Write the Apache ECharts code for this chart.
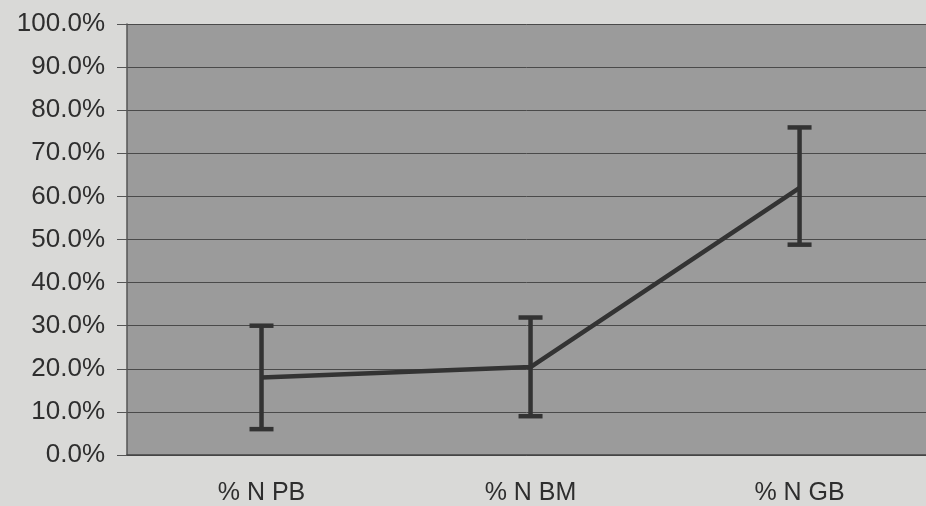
<!DOCTYPE html>
<html>
<head>
<meta charset="utf-8">
<script src="https://cdn.jsdelivr.net/npm/echarts@6/dist/echarts.min.js"></script>
<style>
html,body{margin:0;padding:0;background:#d9d9d7;}
#c{width:926px;height:506px;}
</style>
</head>
<body>
<div id="c"></div>
<script>
var categories = ['% N PB', '% N BM', '% N GB'];
var means = [18.0, 20.4, 62.0];
var upper = [30.0, 31.9, 76.0];
var lower = [6.0, 9.0, 48.8];
var yTicks = [0, 10, 20, 30, 40, 50, 60, 70, 80, 90, 100];

var chart = echarts.init(document.getElementById('c'));
var lineData = categories.map(function (c, i) { return [i, means[i]]; });
var errData = categories.map(function (c, i) { return [i, lower[i], upper[i]]; });

chart.setOption({
  backgroundColor: '#d9d9d7',
  animation: false,
  grid: { left: 127, top: 24, bottom: 51, right: 0, backgroundColor: '#9b9b9b', show: true, borderWidth: 0 },
  xAxis: {
    type: 'value',
    min: -0.5, max: 2.47,
    splitLine: { show: false },
    axisLine: { show: true, onZero: false, lineStyle: { color: '#444', width: 1.5 } },
    axisTick: { show: false },
    axisLabel: {
      color: '#2e2e2e', fontFamily: 'Liberation Sans, Arial', fontSize: 25, margin: 26,
      customValues: [0, 1, 2],
      showMinLabel: true, showMaxLabel: true,
      formatter: function (v) { return categories[Math.round(v)] || ''; }
    }
  },
  yAxis: {
    type: 'value',
    min: 0, max: 100, interval: 10,
    axisLine: { show: true, onZero: false, lineStyle: { color: '#555', width: 1.5 } },
    axisTick: { show: true, length: 10, lineStyle: { color: '#555' } },
    splitLine: { show: true, lineStyle: { color: '#4a4a4a', width: 1 } },
    axisLabel: {
      color: '#2e2e2e', fontFamily: 'Liberation Sans, Arial', fontSize: 26, margin: 22,
      formatter: function (v) { return v.toFixed(1) + '%'; }
    }
  },
  series: [
    {
      type: 'line',
      data: lineData,
      symbol: 'none',
      lineStyle: { color: '#333', width: 4.5 },
      z: 3
    },
    {
      type: 'custom',
      data: errData,
      z: 4,
      renderItem: function (params, api) {
        var x = api.value(0);
        var lo = api.coord([x, api.value(1)]);
        var hi = api.coord([x, api.value(2)]);
        var hw = 12;
        var st = { stroke: '#333', lineWidth: 4.5 };
        return {
          type: 'group',
          children: [
            { type: 'line', shape: { x1: hi[0], y1: hi[1], x2: lo[0], y2: lo[1] }, style: st },
            { type: 'line', shape: { x1: hi[0] - hw, y1: hi[1], x2: hi[0] + hw, y2: hi[1] }, style: st },
            { type: 'line', shape: { x1: lo[0] - hw, y1: lo[1], x2: lo[0] + hw, y2: lo[1] }, style: st }
          ]
        };
      }
    }
  ]
});
</script>
</body>
</html>
